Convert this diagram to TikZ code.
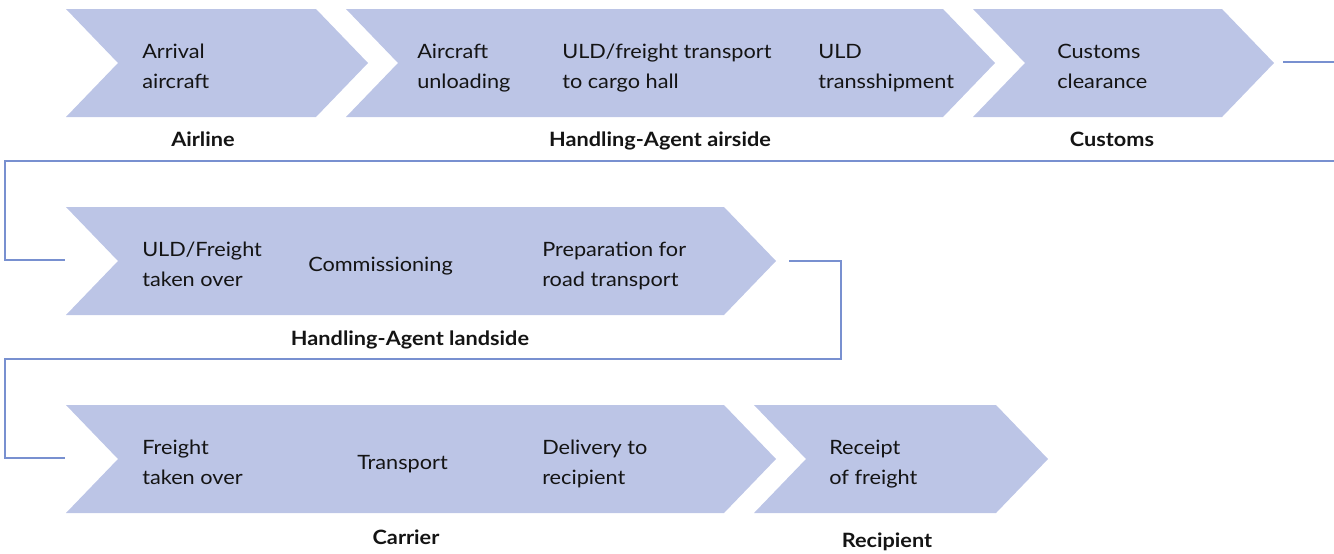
\documentclass[tikz,border=0pt]{standalone}
\usepackage{fontspec}
\setmainfont{Lato}[FakeStretch=1.1]
\definecolor{chev}{RGB}{188,197,230}
\definecolor{conn}{RGB}{120,144,208}
\definecolor{ink}{RGB}{20,20,20}
\newcommand{\chev}[5]{% name, x1, x2, ytop, ybottom
  \fill[chev] (#2,#4) -- (#3,#4) -- ({#3+52},{(#4+#5)/2}) -- (#3,#5) -- (#2,#5) -- ({#2+52},{(#4+#5)/2}) -- cycle;
  \coordinate (#1-tip) at ({#3+52},{(#4+#5)/2});
  \coordinate (#1-left) at (#2,{(#4+#5)/2});
}
\newcommand{\tl}[1]{#1\strut}
\begin{document}
\begin{tikzpicture}[x=0.75pt,y=-0.75pt,
  steptext/.style={anchor=west,align=left,inner sep=0pt,text=ink,font=\fontsize{14.8}{22}\selectfont},
  rolelabel/.style={anchor=base,inner sep=0pt,text=ink,font=\fontsize{14.8}{18}\selectfont\bfseries},
  connline/.style={draw=conn,line width=0.9pt}]
\useasboundingbox (0,0) rectangle (1334,553);
% row 1
\chev{A}{66}{316}{9}{117}
\chev{B}{346}{943}{9}{117}
\chev{C}{973}{1222}{9}{117}
% row 2
\chev{D}{66}{724}{207}{315}
% row 3
\chev{E}{66}{724}{405}{513}
\chev{F}{754}{996}{405}{513}

% texts row 1
\node[steptext] (t1) at (142,67.5) {\tl{Arrival}\\\tl{aircraft}};
\node[steptext] (t2) at (417,67.5) {\tl{Aircraft}\\\tl{unloading}};
\node[steptext] (t3) at (562,67.5) {\tl{ULD/freight transport}\\\tl{to cargo hall}};
\node[steptext] (t4) at (818,67.5) {\tl{ULD}\\\tl{transshipment}};
\node[steptext] (t5) at (1057,67.5) {\tl{Customs}\\\tl{clearance}};
% row 2
\node[steptext] (t6) at (142,265.5) {\tl{ULD/Freight}\\\tl{taken over}};
\node[steptext] (t7) at (308,266) {\tl{Commissioning}};
\node[steptext] (t8) at (542,265.5) {\tl{Preparation for}\\\tl{road transport}};
% row 3
\node[steptext] (t9) at (142,463.5) {\tl{Freight}\\\tl{taken over}};
\node[steptext] (t10) at (357,464) {\tl{Transport}};
\node[steptext] (t11) at (542,463.5) {\tl{Delivery to}\\\tl{recipient}};
\node[steptext] (t12) at (829,463.5) {\tl{Receipt}\\\tl{of freight}};

% role labels
\node[rolelabel] (l1) at (203,146) {Airline};
\node[rolelabel] (l2) at (660,146) {Handling-Agent airside};
\node[rolelabel] (l3) at (1112,146) {Customs};
\node[rolelabel] (l4) at (410,345) {Handling-Agent landside};
\node[rolelabel] (l5) at (406,544) {Carrier};
\node[rolelabel] (l6) at (887,547) {Recipient};

% connectors
\coordinate (c1s) at (1283,62);
\coordinate (c1e) at (1334,62);
\coordinate (c2s) at (1334,161);
\coordinate (c2e) at (65,260);
\coordinate (c3s) at (789,261);
\coordinate (c3e) at (65,458);
\draw[connline] (c1s) -- (c1e);
\draw[connline] (c2s) -- (5,161) -- (5,260) -- (c2e);
\draw[connline] (c3s) -- (841,261) -- (841,359) -- (5,359) -- (5,458) -- (c3e);
\end{tikzpicture}
\end{document}
